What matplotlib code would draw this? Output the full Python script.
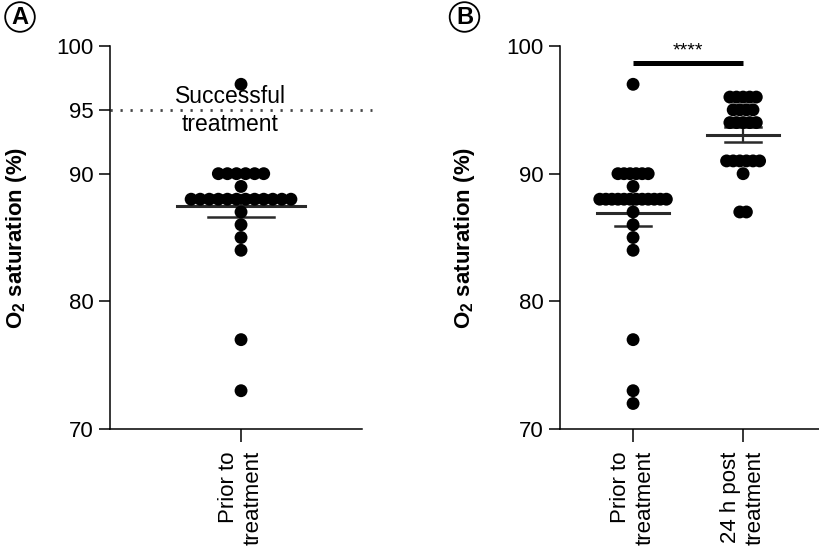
import matplotlib
matplotlib.use("Agg")
import matplotlib.pyplot as plt
import numpy as np

plt.rcParams["font.family"] = ["Liberation Sans", "DejaVu Sans"]
plt.rcParams["mathtext.fontset"] = "custom"
plt.rcParams["mathtext.bf"] = "Liberation Sans:bold"
plt.rcParams["mathtext.rm"] = "Liberation Sans"
plt.rcParams["mathtext.default"] = "bf"

# O2 saturation values (%)
prior_a = [97] + [90] * 6 + [89] + [88] * 12 + [87, 86, 85, 84, 77, 73]
prior_b = [97] + [90] * 6 + [89] + [88] * 12 + [87, 86, 85, 84, 77, 73, 72]
post_b = [96] * 5 + [95] * 4 + [94] * 5 + [91] * 6 + [90] + [87] * 2

labels_a = ["Prior to\ntreatment"]
labels_b = ["Prior to\ntreatment", "24 h post\ntreatment"]
threshold = 95
ylabel = "O$_2$ saturation (%)"


def swarm(values, center, step):
    # spread equal values side by side, centred on the category
    xs, ys = [], []
    for v in sorted(set(values), reverse=True):
        n = values.count(v)
        offs = (np.arange(n) - (n - 1) / 2) * step
        xs.extend(center + offs)
        ys.extend([v] * n)
    return xs, ys


def draw_group(ax, values, center, step, mean_hw, err_hw):
    xs, ys = swarm(values, center, step)
    ax.scatter(xs, ys, s=86, color="black", edgecolors="none", zorder=3, clip_on=False)
    m = np.mean(values)
    sem = np.std(values, ddof=1) / np.sqrt(len(values))
    ax.plot([center - mean_hw, center + mean_hw], [m, m], color="#2a2a2a", lw=2.2, zorder=2)
    ax.plot([center, center], [m - sem, m + sem], color="#2a2a2a", lw=1.6, zorder=2)
    for y in (m - sem, m + sem):
        ax.plot([center - err_hw, center + err_hw], [y, y], color="#2a2a2a", lw=1.8, zorder=2)


def style(ax, yticks, labels):
    ax.set_ylim(70, 100)
    ax.set_yticks(yticks)
    ax.set_xticks(range(len(labels)))
    ax.set_xticklabels(labels, rotation=90, multialignment="right", fontsize=16)
    for s in ("top", "right"):
        ax.spines[s].set_visible(False)
    for s in ("left", "bottom"):
        ax.spines[s].set_linewidth(1.1)
    ax.tick_params(axis="y", length=8, width=1.1, labelsize=16, pad=4)
    ax.tick_params(axis="x", length=9, width=1.1, pad=7)
    ax.set_ylabel(ylabel, fontsize=16, fontweight="bold")
    ax.yaxis.set_label_coords(-0.32, 0.5)


fig = plt.figure(figsize=(8.19, 5.55), dpi=100)

# panel A
ax1 = fig.add_axes([0.1343, 0.2270, 0.3077, 0.6901])
ax1.set_xlim(-0.52, 0.48)
draw_group(ax1, prior_a, 0, 0.036, 0.254, 0.13)
ax1.plot([0, 1.04], [threshold, threshold], transform=ax1.get_yaxis_transform(),
         color="#444444", lw=2, linestyle=(0, (0.8, 2.8)), clip_on=False, zorder=1)
ax1.text(-0.04, 96.05, "Successful", ha="center", va="center", fontsize=16.5)
ax1.text(-0.045, 93.85, "treatment", ha="center", va="center", fontsize=16.5)
style(ax1, [70, 80, 90, 95, 100], labels_a)

# panel B
ax2 = fig.add_axes([0.6838, 0.2270, 0.3162, 0.6901])
ax2.set_xlim(-0.664, 1.69)
draw_group(ax2, prior_b, 0, 0.055, 0.33, 0.165)
draw_group(ax2, post_b, 1, 0.06, 0.33, 0.165)
ax2.plot([0, 1], [98.7, 98.7], color="black", lw=3.6, solid_capstyle="butt", clip_on=False)
ax2.text(0.5, 99.6, "****", ha="center", va="center", fontsize=14)
style(ax2, [70, 80, 90, 100], labels_b)

# circled panel letters
for x, letter in ((20 / 819, "A"), (464.5 / 819, "B")):
    fig.text(x, 1 - 17 / 555, letter, ha="center", va="center", fontsize=17,
             fontweight="bold",
             bbox=dict(boxstyle="circle,pad=0.14", fc="white", ec="black", lw=1.3))

fig.savefig("out.png", dpi=100)
